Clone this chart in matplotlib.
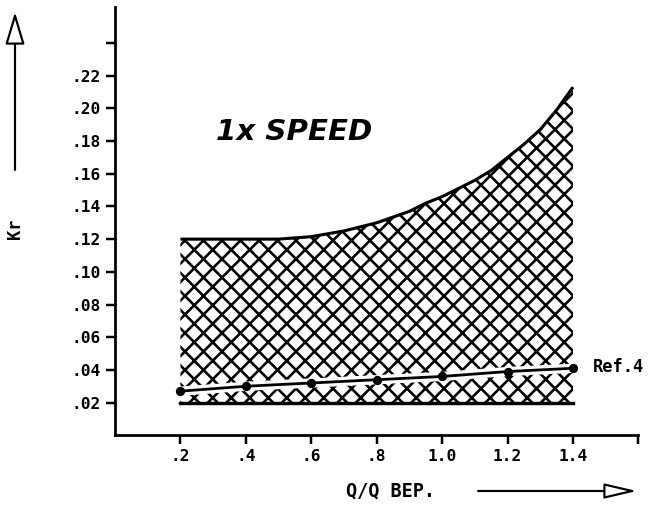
import matplotlib
matplotlib.use("Agg")
import matplotlib.pyplot as plt
from matplotlib.patches import FancyArrowPatch

# Data
q_upper = [0.2, 0.3, 0.4, 0.5, 0.6, 0.7, 0.8, 0.85, 0.9, 0.95, 1.0, 1.05, 1.1, 1.15,
           1.2, 1.25, 1.3, 1.35, 1.4]
kr_upper = [0.120, 0.120, 0.120, 0.120, 0.1215, 0.125, 0.130, 0.1335, 0.137, 0.142, 0.146,
            0.151, 0.156, 0.162, 0.170, 0.178, 0.187, 0.199, 0.213]
kr_lower = 0.02

q_ref = [0.2, 0.4, 0.6, 0.8, 1.0, 1.2, 1.4]
kr_ref = [0.027, 0.030, 0.032, 0.034, 0.036, 0.039, 0.041]

x_ticks = [0.2, 0.4, 0.6, 0.8, 1.0, 1.2, 1.4, 1.6]
x_labels = [".2", ".4", ".6", ".8", "1.0", "1.2", "1.4", ""]
y_ticks = [0.02, 0.04, 0.06, 0.08, 0.10, 0.12, 0.14, 0.16, 0.18, 0.20, 0.22, 0.24]
y_labels = [".02", ".04", ".06", ".08", ".10", ".12", ".14", ".16", ".18", ".20", ".22", ""]

W, H, DPI = 653, 509, 111
plt.rcParams["hatch.linewidth"] = 1.7
mono = "DejaVu Sans Mono"

fig = plt.figure(figsize=(W / DPI, H / DPI), dpi=DPI)
ax = fig.add_axes([115 / W, 1 - 435.3 / H, 523.4 / W, 428.3 / H])

# Hatched band
ax.fill_between(q_upper, kr_lower, kr_upper, facecolor="none", edgecolor="black",
                hatch="xx", linewidth=0)
ax.plot(q_upper, kr_upper, color="black", lw=2.0, solid_capstyle="butt")
ax.plot([q_upper[0], q_upper[-1]], [kr_lower, kr_lower], color="black", lw=2.2)

# Ref.4 line (white gap under it cuts the hatch)
ax.plot(q_ref, kr_ref, color="white", lw=6, solid_capstyle="butt")
ax.plot(q_ref, kr_ref, color="black", lw=1.8, marker="o", ms=5)
ax.text(1.46, kr_ref[-1] + 0.0005, "Ref.4", family=mono, fontsize=11,
        fontweight="bold", va="center", ha="left")

ax.text(0.31, 0.1857, "1x SPEED", fontsize=19, style="oblique", fontweight="bold",
        ha="left", va="center")

ax.set_xlim(0, 1.6)
ax.set_ylim(0, 0.262)
ax.set_xticks(x_ticks)
ax.set_xticklabels(x_labels, family=mono, fontsize=10.5, fontweight="bold")
ax.set_yticks(y_ticks)
ax.set_yticklabels(y_labels, family=mono, fontsize=10.5, fontweight="bold")
ax.tick_params(axis="both", length=6, width=1.6, pad=3)

for s in ["top", "right"]:
    ax.spines[s].set_visible(False)
for s in ["left", "bottom"]:
    ax.spines[s].set_linewidth(1.8)

# Axis arrows and titles
def fx(px):
    return px / W

def fy(py):
    return 1 - py / H

fig.add_artist(FancyArrowPatch((fx(15), fy(173)), (fx(15), fy(9)), transform=fig.transFigure,
                               arrowstyle="-|>,head_length=1.5,head_width=0.45",
                               mutation_scale=12, fc="white", ec="black", lw=1.4))
fig.add_artist(FancyArrowPatch((fx(475), fy(491)), (fx(640), fy(491)), transform=fig.transFigure,
                               arrowstyle="-|>,head_length=1.5,head_width=0.35",
                               mutation_scale=12, fc="white", ec="black", lw=1.4))
fig.text(fx(15), fy(229), "Kr", rotation=90, family=mono, fontsize=11, fontweight="bold",
         ha="center", va="center")
fig.text(fx(390), fy(491), "Q/Q BEP.", family=mono, fontsize=12, fontweight="bold",
         ha="center", va="center")

fig.savefig("out.png", dpi=DPI)
